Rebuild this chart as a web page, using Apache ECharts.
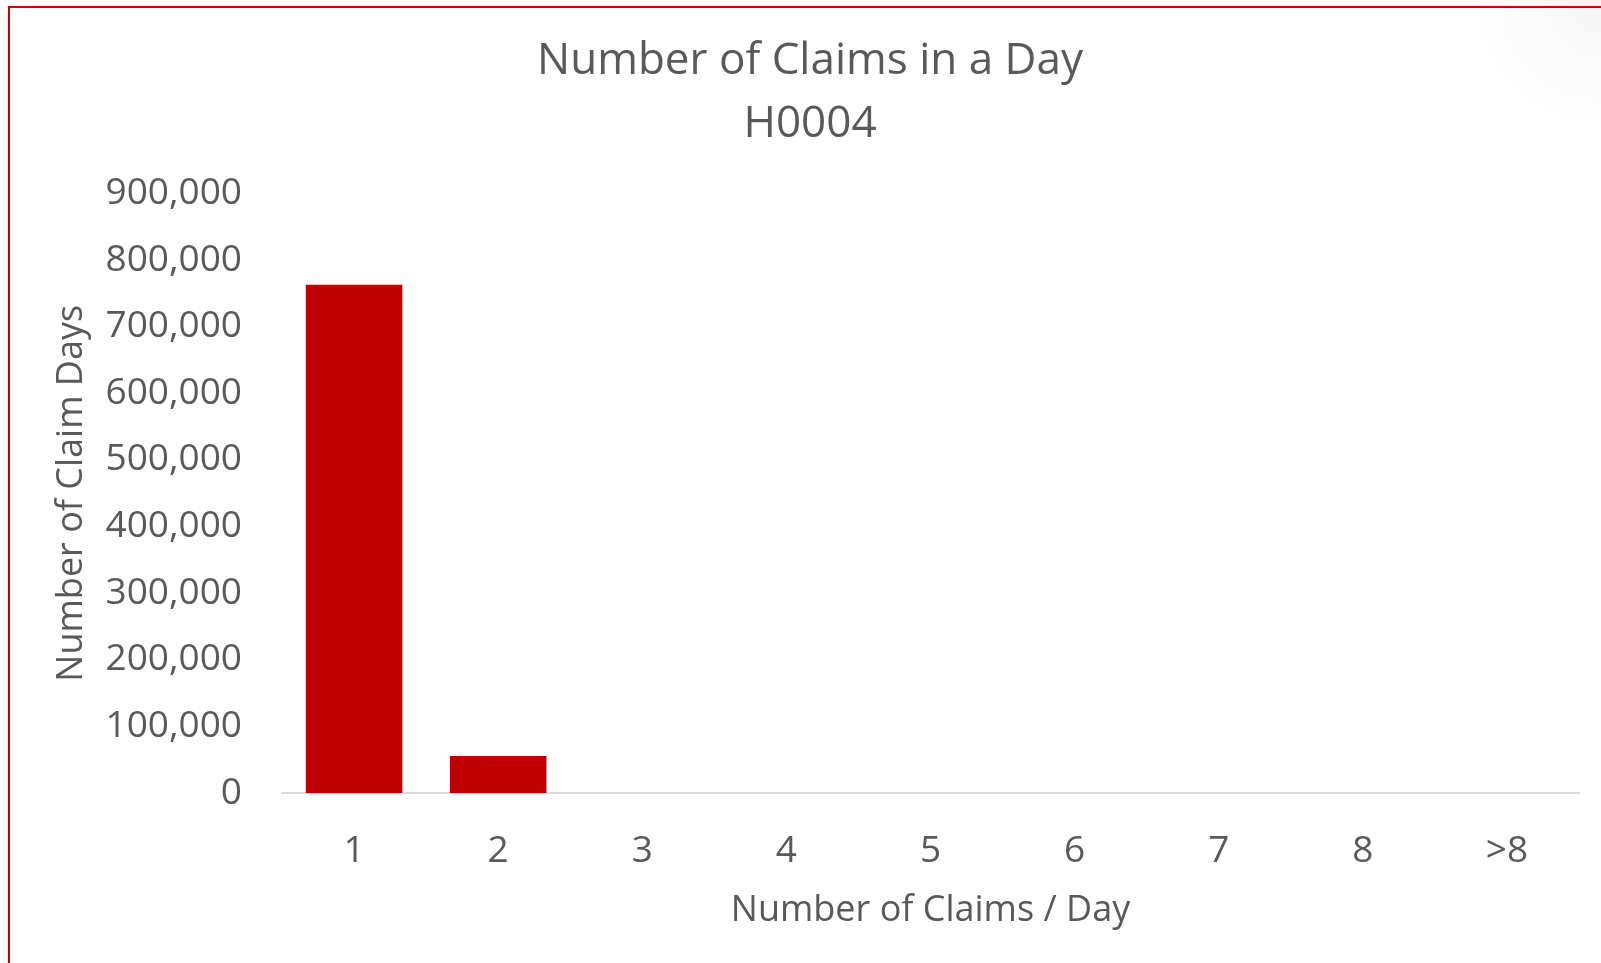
<!DOCTYPE html>
<html>
<head>
<meta charset="utf-8">
<title>Number of Claims in a Day</title>
<script src="https://cdn.jsdelivr.net/npm/echarts@6/dist/echarts.min.js"></script>
<style>
  html, body { margin: 0; padding: 0; width: 1601px; height: 963px; overflow: hidden; }
  body {
    background: #fff radial-gradient(circle at 1601px 0px, rgba(0,0,0,0.04) 0px, rgba(0,0,0,0) 130px) no-repeat;
  }
  .frame {
    position: absolute; left: 8px; top: 6px; right: -10px; bottom: -10px;
    border-top: 2px solid #cc0000; border-left: 2px solid #cc0000;
  }
  #chart { position: absolute; left: 0; top: 0; width: 1601px; height: 963px; }
</style>
</head>
<body>
<div class="frame"></div>
<div id="chart"></div>
<script>
  // data
  const categories = ["1", "2", "3", "4", "5", "6", "7", "8", ">8"];
  const claimDays = [763000, 55500, 100, 20, 5, 2, 1, 1, 1];
  const yTicks = { min: 0, max: 900000, interval: 100000 };

  const textColor = "#595959";
  const font = "'Open Sans', sans-serif";

  const chart = echarts.init(document.getElementById("chart"), null, { renderer: "canvas" });

  const options = {
    backgroundColor: "transparent",
    animation: false,
    title: {
      text: "Number of Claims in a Day\nH0004",
      left: 810,
      top: 30,
      padding: 0,
      textAlign: "center",
      textStyle: {
        color: textColor,
        fontFamily: font,
        fontWeight: "normal",
        fontSize: 44,
        lineHeight: 63,
      },
    },
    grid: {
      left: 282,
      right: 22,
      top: 193.5,
      bottom: 170,
    },
    xAxis: {
      type: "category",
      data: categories,
      name: "Number of Claims / Day",
      nameLocation: "middle",
      nameGap: 100,
      nameTextStyle: { color: textColor, fontFamily: font, fontSize: 36 },
      axisLine: { lineStyle: { color: "#d9d9d9", width: 2 } },
      axisTick: { show: false },
      axisLabel: { color: textColor, fontFamily: font, fontSize: 37, margin: 40 },
    },
    yAxis: {
      type: "value",
      min: yTicks.min,
      max: yTicks.max,
      interval: yTicks.interval,
      name: "Number of Claim Days",
      nameLocation: "middle",
      nameGap: 192,
      nameTextStyle: { color: textColor, fontFamily: font, fontSize: 36 },
      axisLine: { show: false },
      axisTick: { show: false },
      splitLine: { show: false },
      axisLabel: {
        color: textColor,
        fontFamily: font,
        fontSize: 37,
        margin: 40,
        padding: [8, 0, 0, 0],
        formatter: (v) => v.toLocaleString("en-US"),
      },
    },
    series: [
      {
        name: "Claim Days",
        type: "bar",
        data: claimDays,
        barWidth: "67%",
        itemStyle: { color: "#c00000" },
      },
    ],
  };

  chart.setOption(options);
</script>
</body>
</html>
